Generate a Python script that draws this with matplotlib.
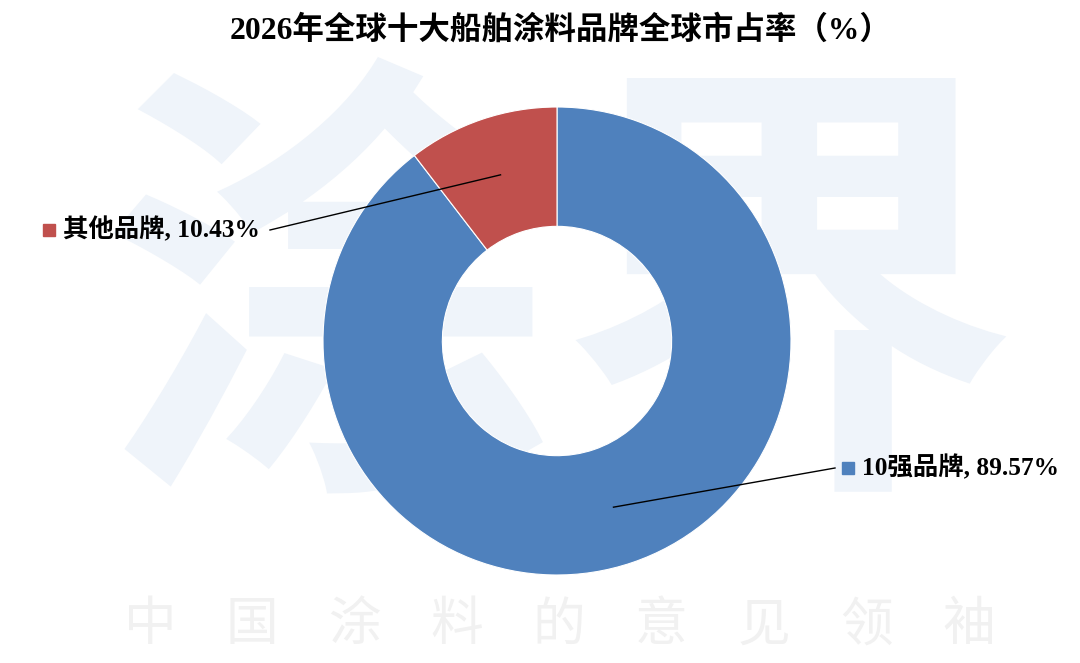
import numpy as np
import matplotlib
matplotlib.use("Agg")
import matplotlib.pyplot as plt

# data
labels = ["10强品牌", "其他品牌"]
shares = [89.57, 10.43]
colors = ["#4F81BD", "#C0504D"]
title = "2026年全球十大船舶涂料品牌全球市占率（%）"
watermark_big = "涂界"
watermark_small = "中国涂料的意见领袖"

W, H = 1080, 663
fig = plt.figure(figsize=(W / 100, H / 100), dpi=100)
ax = fig.add_axes([0, 0, 1, 1])

cjk = ["Noto Sans CJK SC", "DejaVu Sans"]
mixed = ["Liberation Serif", "Noto Sans CJK SC", "DejaVu Sans"]

# watermark
ax.text(560, H - 318, watermark_big, family=cjk, weight="bold", fontsize=330,
        color="#eff4fa", ha="center", va="center", zorder=0)
for i, ch in enumerate(watermark_small):
    ax.text(150 + i * 102.3, H - 625, ch, family=cjk, fontsize=38,
            color="#f1f1f1", ha="center", va="center", zorder=0)

# donut
cx, cy, R = 557, H - 341, 234
wedges, _ = ax.pie(shares, colors=colors, startangle=90, counterclock=False,
                   center=(cx, cy), radius=R, frame=True,
                   wedgeprops=dict(width=R * 0.51, edgecolor="white", linewidth=0.8))
ax.set_xlim(0, W)
ax.set_ylim(0, H)
ax.set_aspect("equal")
ax.axis("off")

# labels with leader lines
label_pos = {
    0: dict(line_end=(835, H - 468), box=(848, H - 468)),
    1: dict(line_end=(270, H - 230), box=(49, H - 230)),
}
for i, w in enumerate(wedges):
    mid = np.deg2rad((w.theta1 + w.theta2) / 2)
    px = cx + 0.75 * R * np.cos(mid)
    py = cy + 0.75 * R * np.sin(mid)
    p = label_pos[i]
    ax.plot([px, p["line_end"][0]], [py, p["line_end"][1]], color="black", lw=1)
    bx, by = p["box"]
    ax.plot(bx, by, marker="s", markersize=8.5, color=colors[i], linestyle="none")
    ax.text(bx + 14, by, f"{labels[i]}, {shares[i]:.2f}%", family=mixed,
            weight="bold", fontsize=18.3, ha="left", va="center")

ax.text(561, H - 30, title, family=mixed, weight="bold", fontsize=22.7,
        ha="center", va="center")

fig.savefig("out.png", dpi=100)
